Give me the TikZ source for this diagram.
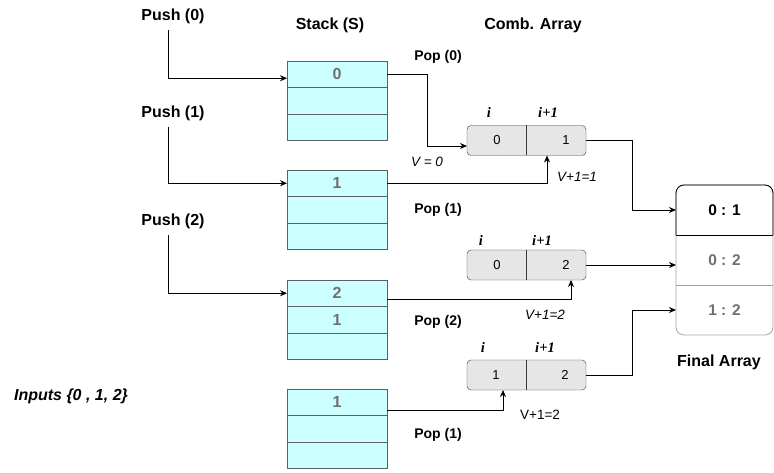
\documentclass[tikz,border=0pt]{standalone}
\usepackage{fontspec}
\setmainfont{Liberation Sans}
\newfontfamily\idxfont{Liberation Serif}
\usepackage{tikz}
\usetikzlibrary{calc}
\usetikzlibrary{arrows.meta}
\definecolor{stackfill}{HTML}{CCFFFF}
\definecolor{stackline}{HTML}{5A6066}
\definecolor{combfill}{HTML}{E6E6E6}
\definecolor{combline}{HTML}{36393D}
\definecolor{softtext}{HTML}{707070}
\definecolor{finline}{HTML}{A6A6A6}
\tikzset{
	row/.style={
		draw=stackline,
		fill=stackfill,
		minimum width=100,
		minimum height=26.5,
		inner sep=0,
		outer sep=0,
		text=softtext,
		font=\fontsize{16}{18}\selectfont\bfseries,
	},
	comb/.style={
		draw=combline,
		fill=combfill,
		rounded corners=4,
		minimum width=119,
		minimum height=30,
		inner sep=0,
		outer sep=0,
	},
	val/.style={
		font=\fontsize{13}{15}\selectfont,
		inner sep=0,
	},
	idx/.style={
		font=\fontsize{14.5}{16}\selectfont\idxfont\bfseries\itshape,
		inner sep=0,
	},
	fin/.style={
		minimum width=97,
		minimum height=50,
		inner sep=0,
		outer sep=0,
		font=\fontsize{15.5}{17}\selectfont\bfseries,
	},
	title/.style={
		font=\fontsize{16}{18}\selectfont\bfseries,
	},
	pop/.style={
		font=\fontsize{14}{16}\selectfont\bfseries,
		inner sep=0,
	},
	note/.style={
		font=\fontsize{13.5}{15}\selectfont\itshape,
		inner sep=0,
	},
	link/.style={
		line width=.8pt,
		-{Stealth[length=7pt,width=6pt]},
	}
}
\begin{document}
\begin{tikzpicture}[x=1pt,y=-1pt]
								\useasboundingbox (0,0) rectangle (774,473);
								
								\node[title] (p0) at (173,16) {Push (0)};
								\node[title] (p1) at (173,113) {Push (1)};
								\node[title] (p2) at (173,221) {Push (2)};
								\node[title] (hs) at (330,25) {Stack (S)};
								\node[title] (hc) at (533,25) {Comb. Array};
								\node[title] (hf) at (719,362) {Final Array};
								\node[title, font=\fontsize{16}{18}\selectfont\bfseries\itshape] (in) at (71,396) {Inputs \{0 , 1, 2\}};
								
								\node[row] (s11) at (337,74.25) {0};
								\node[row, anchor=north] (s12) at (s11.south) {};
								\node[row, anchor=north] (s13) at (s12.south) {};
								
								\node[row] (s21) at (337,183.25) {1};
								\node[row, anchor=north] (s22) at (s21.south) {};
								\node[row, anchor=north] (s23) at (s22.south) {};
								
								\node[row] (s31) at (337,293.25) {2};
								\node[row, anchor=north] (s32) at (s31.south) {1};
								\node[row, anchor=north] (s33) at (s32.south) {};
								
								\node[row] (s41) at (337,402.25) {1};
								\node[row, anchor=north] (s42) at (s41.south) {};
								\node[row, anchor=north] (s43) at (s42.south) {};
								
								\node[comb] (c1) at (526.5,140.5) {};
								\draw[combline] (c1.north) -- (c1.south);
								\node[val] (c1a) at (497,140.5) {0};
								\node[val] (c1b) at (566,140.5) {1};
								\node[idx] (i1a) at (489,112) {i};
								\node[idx] (i1b) at (548,112) {i+1};
								
								\node[comb] (c2) at (526.5,265) {};
								\draw[combline] (c2.north) -- (c2.south);
								\node[val] (c2a) at (497,265) {0};
								\node[val] (c2b) at (566,265) {2};
								\node[idx] (i2a) at (481,240) {i};
								\node[idx] (i2b) at (542,240) {i+1};
								
								\node[comb] (c3) at (526.5,375) {};
								\draw[combline] (c3.north) -- (c3.south);
								\node[val] (c3a) at (496,375) {1};
								\node[val] (c3b) at (565,375) {2};
								\node[idx] (i3a) at (483,347) {i};
								\node[idx] (i3b) at (545,347) {i+1};
								
								\node[fin] (f1) at (724.5,210) {0 : 1};
								\node[fin, text=softtext] (f2) at (724.5,260) {0 : 2};
								\node[fin, text=softtext] (f3) at (724.5,310) {1 : 2};
								\draw[finline, line width=.8pt, rounded corners=8] (f1.north west) rectangle (f3.south east);
								\draw[line width=.8pt, rounded corners=8] (f1.south west) |- (f1.north east) -- (f1.south east);
								\draw[line width=.8pt] (f1.south west) -- (f1.south east);
								\draw[finline, line width=.8pt] (f2.south west) -- (f2.south east);
								
								\node[pop] (o0) at (438,57) {Pop (0)};
								\node[pop] (o1) at (438,210) {Pop (1)};
								\node[pop] (o2) at (438,322) {Pop (2)};
								\node[pop] (o3) at (438,435) {Pop (1)};
								\node[note] (v0) at (427,162) {V = 0};
								\node[note] (v1) at (577,177) {V+1=1};
								\node[note] (v2) at (545,315) {V+1=2};
								\node[note, font=\fontsize{13.5}{15}\selectfont] (v3) at (540,415) {V+1=2};
								
								\draw[link] ($(p0.south)+(-5,3)$) |- ($(s11.west)+(0,4)$);
								\draw[link] ($(p1.south)+(-5,3)$) |- (s21.west);
								\draw[link] ($(p2.south)+(-5,3)$) |- (s31.west);
								
								\draw[link] (s11.east) -- ++(40,0) |- ($(c1.west)+(0,5.5)$);
								\draw[link] (s21.east) -| ($(c1.south west)+(80,0)$);
								\draw[link] ($(s31.east)+(0,6)$) -| ($(c2.south west)+(104,0)$);
								\draw[link] ($(s41.east)+(0,8)$) -| ($(c3.south west)+(36,0)$);
								
								\draw[link] (c1.east) -- ++(46,0) |- (f1.west);
								\draw[link] (c2.east) -- (c2.east -| f2.west);
								\draw[link] (c3.east) -- ++(46,0) |- (f3.west);
								
							\end{tikzpicture}
\end{document}
